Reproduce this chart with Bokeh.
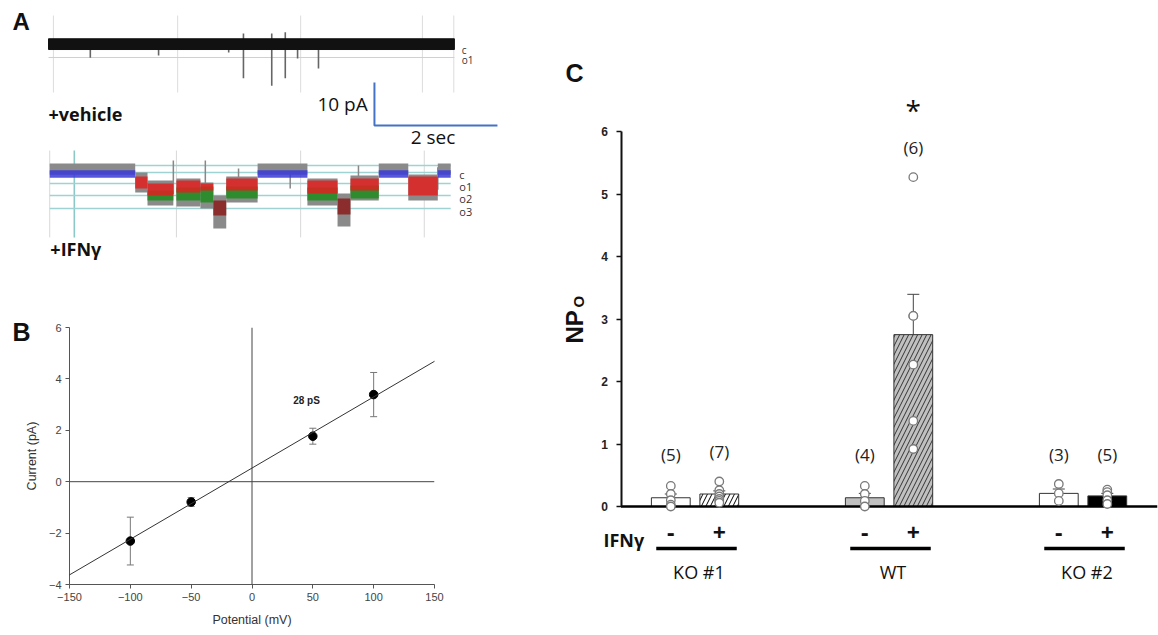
import math
from bokeh.plotting import figure
from bokeh.models import (Range1d, Span, Slope, Whisker, TeeHead,
                          FixedTicker, ColumnDataSource)
from bokeh.layouts import row, column
from bokeh.embed import file_html
from bokeh.resources import INLINE
from bokeh.core.properties import value

# ======================= DATA =======================
# ---- Panel A: single-channel traces (time in s, current in pA) ----
veh_offset = 30.0                      # vehicle trace drawn 30 pA above the IFNγ trace
veh_span_t = [0.0, 6.6]
veh_noise = [-1.4, 1.1]
veh_spike_t = [0.68, 1.79, 2.93, 3.17, 3.63, 3.85, 4.05, 4.39]
veh_spike_lo = [-3.3, -2.8, -2.1, -8.1, -9.8, -8.1, -3.5, -5.8]
veh_spike_hi = [0.5, 0.5, 0.5, 2.3, 2.3, 2.6, 0.5, 0.7]
veh_grid_t = [0.08, 2.10, 4.10, 6.08, 6.59]
veh_levels = [0.0, -3.26]
veh_level_names = ["c", "o1"]

ifn_levels = [0.0, -2.56, -5.35, -8.37]
ifn_level_names = ["c", "o1", "o2", "o3"]
ifn_extra_line = 1.63
ifn_grid_t = [0.02, 2.08, 4.10, 6.11]
ifn_marker_t = 0.42
# closed periods
ifn_closed_t0 = [0.02, 3.40, 5.37, 6.33]
ifn_closed_t1 = [1.41, 4.21, 5.85, 6.54]
ifn_closed_env = [2.1, -0.5]
ifn_closed_blue = [0.5, -1.2]
# open periods
ifn_open_t0 = [1.41, 1.61, 2.08, 2.47, 2.68, 2.89, 4.21, 4.70, 4.91, 5.85]
ifn_open_t1 = [1.61, 2.03, 2.47, 2.68, 2.89, 3.40, 4.70, 4.91, 5.37, 6.33]
ifn_env_hi = [0.0, -1.86, -1.40, -2.33, -5.35, -0.93, -1.40, -4.88, -0.70, -0.47]
ifn_env_lo = [-4.65, -7.67, -7.90, -8.37, -13.0, -6.98, -7.67, -12.56, -6.51, -6.51]
ifn_red_hi = [-0.93, -2.56, -1.86, -2.56, -6.51, -1.40, -1.86, -6.05, -1.40, -0.93]
ifn_red_lo = [-3.72, -5.35, -4.65, -4.19, -10.0, -4.19, -4.88, -9.77, -4.19, -5.35]
ifn_red_color = ["#e02020", "#e02020", "#e02020", "#e02020", "#8b1c1c",
                 "#e02020", "#e02020", "#8b1c1c", "#e02020", "#e02020"]
ifn_green_t0 = [1.61, 2.08, 2.47, 2.89, 4.21, 4.91]
ifn_green_t1 = [2.03, 2.47, 2.68, 3.40, 4.70, 5.37]
ifn_green_hi = [-4.19, -3.49, -3.26, -3.26, -3.49, -3.02]
ifn_green_lo = [-6.51, -6.51, -6.98, -6.05, -6.51, -6.05]
ifn_spike_t = [2.03, 2.55, 3.09, 3.93, 5.04, 6.33]
ifn_spike_lo = [-5.0, -5.0, -4.0, -3.7, -4.5, -4.0]
ifn_spike_hi = [2.8, 2.8, 0.9, 0.5, 1.6, 1.2]

scale_pa = 10
scale_sec = 2

# ---- Panel B: I-V relation ----
iv_mv = [-100, -50, 50, 100]
iv_pa = [-2.31, -0.79, 1.77, 3.39]
iv_err = [0.93, 0.17, 0.31, 0.86]
iv_fit_slope = 0.0277      # pA/mV  (28 pS)
iv_fit_intercept = 0.53
iv_xticks = [-150, -100, -50, 0, 50, 100, 150]
iv_yticks = [-4, -2, 0, 2, 4, 6]

# ---- Panel C: NPo ----
groups = ["KO #1", "WT", "KO #2"]
conditions = ["-", "+"]
npo_mean = [0.14, 0.20, 0.14, 2.75, 0.21, 0.17]
npo_sem = [0.06, 0.05, 0.07, 0.645, 0.07, 0.04]
n_counts = [5, 7, 4, 6, 3, 5]
npo_points = [
    [0.33, 0.20, 0.10, 0.03, 0.0],
    [0.40, 0.26, 0.20, 0.16, 0.12, 0.09, 0.06],
    [0.33, 0.20, 0.09, 0.0],
    [5.27, 3.05, 3.05, 2.27, 1.37, 0.92],
    [0.36, 0.21, 0.09],
    [0.27, 0.23, 0.18, 0.10, 0.04],
]
npo_yticks = [0, 1, 2, 3, 4, 5, 6]

# ======================= PANEL A =======================
OS = value("Open Sans")
LS = value("Liberation Sans")
LEFT_W = 528

pA = figure(width=LEFT_W, height=280, x_range=Range1d(-0.7805, (LEFT_W - 48) / 61.5),
            y_range=Range1d(-25.12, 40.0), x_axis_type=None, y_axis_type=None,
            output_backend="svg", toolbar_location=None, min_border=0)
pA.grid.visible = False
pA.outline_line_color = None
pA.frame_align = False

# vehicle trace
pA.segment(x0=veh_grid_t, x1=veh_grid_t, y0=veh_offset + 6.5, y1=veh_offset - 11.4,
           line_color="#dcdcdc", line_width=1)
pA.segment(x0=[veh_span_t[0]], x1=[veh_span_t[1]], y0=[veh_offset + veh_levels[1]],
           y1=[veh_offset + veh_levels[1]], line_color="#d0d0d0", line_width=1)
pA.segment(x0=veh_spike_t, x1=veh_spike_t,
           y0=[veh_offset + v for v in veh_spike_lo],
           y1=[veh_offset + v for v in veh_spike_hi],
           line_color="#666666", line_width=1.6)
pA.quad(left=[veh_span_t[0]], right=[veh_span_t[1]],
        bottom=[veh_offset + veh_noise[0]], top=[veh_offset + veh_noise[1]],
        fill_color="#111111", line_color="#111111")
pA.text(x=[veh_span_t[1] + 0.12] * 2,
        y=[veh_offset - 1.4, veh_offset - 3.95], text=veh_level_names,
        text_font=OS, text_font_size="10px", text_color="#333333",
        text_baseline="alphabetic")

# IFN trace
pA.segment(x0=ifn_grid_t, x1=ifn_grid_t, y0=5.1, y1=-15.1,
           line_color="#d8d8d8", line_width=1)
pA.segment(x0=[ifn_marker_t], x1=[ifn_marker_t], y0=[5.1], y1=[-15.1],
           line_color="#8cc8c8", line_width=1.6)
hl = [ifn_extra_line] + ifn_levels
pA.segment(x0=[ifn_closed_t0[0]] * len(hl), x1=[ifn_closed_t1[-1]] * len(hl),
           y0=hl, y1=hl, line_color="#9fd3d3", line_width=1.3)
pA.segment(x0=ifn_spike_t, x1=ifn_spike_t, y0=ifn_spike_lo, y1=ifn_spike_hi,
           line_color="#888888", line_width=1.5)
pA.quad(left=ifn_closed_t0, right=ifn_closed_t1,
        bottom=ifn_closed_env[1], top=ifn_closed_env[0],
        fill_color="#8a8a8a", line_color=None)
pA.quad(left=ifn_closed_t0, right=ifn_closed_t1,
        bottom=ifn_closed_blue[1], top=ifn_closed_blue[0],
        fill_color="#3a3ad8", line_color=None, fill_alpha=0.85)
pA.quad(left=ifn_open_t0, right=ifn_open_t1, bottom=ifn_env_lo, top=ifn_env_hi,
        fill_color="#8a8a8a", line_color=None)
pA.quad(left=ifn_green_t0, right=ifn_green_t1, bottom=ifn_green_lo, top=ifn_green_hi,
        fill_color="#2e8b2e", line_color=None)
src_red = ColumnDataSource(dict(l=ifn_open_t0, r=ifn_open_t1, b=ifn_red_lo,
                                t=ifn_red_hi, c=ifn_red_color))
pA.quad(left="l", right="r", bottom="b", top="t", fill_color="c", line_color=None,
        fill_alpha=0.85, source=src_red)
pA.text(x=[ifn_closed_t1[-1] + 0.14] * 4,
        y=[-0.47, -3.26, -6.05, -9.07], text=ifn_level_names,
        text_font=OS, text_font_size="11px", text_color="#333333",
        text_baseline="alphabetic")

# scale bar
sb_t, sb_y = 5.30, 10.93
pA.line(x=[sb_t, sb_t, sb_t + scale_sec], y=[sb_y + scale_pa, sb_y, sb_y],
        line_color="#4472c4", line_width=2)
pA.text(x=[sb_t - 0.11], y=[16.0], text=[f"{scale_pa} pA"], text_font=OS,
        text_font_size="19px", text_align="right", text_baseline="alphabetic",
        text_color="#111111")
pA.text(x=[5.89], y=[8.3], text=[f"{scale_sec} sec"], text_font=OS,
        text_font_size="19px", text_baseline="alphabetic", text_color="#111111")
pA.text(x=[0.0], y=[13.5], text=["+vehicle"], text_font=OS, text_font_size="18px",
        text_font_style="bold", text_baseline="alphabetic", text_color="#111111")
pA.text(x=[0.03], y=[-17.9], text=["+IFNγ"], text_font=OS, text_font_size="18px",
        text_font_style="bold", text_baseline="alphabetic", text_color="#111111")
pA.text(x=[-0.585], y=[35.1], text=["A"], text_font=LS, text_font_size="24px",
        text_font_style="bold", text_baseline="alphabetic", text_color="#111111")

# ======================= PANEL B =======================
pB = figure(width=LEFT_W, height=355, x_range=Range1d(-150, 150), y_range=Range1d(-4, 6),
            min_border_left=69, min_border_right=LEFT_W - 434, min_border_top=47,
            min_border_bottom=51, output_backend="svg", toolbar_location=None)
pB.grid.visible = False
pB.outline_line_color = None
pB.frame_align = False
pB.xaxis.ticker = FixedTicker(ticks=iv_xticks)
pB.yaxis.ticker = FixedTicker(ticks=iv_yticks)
for ax in (pB.xaxis, pB.yaxis):
    ax.axis_line_color = "#555555"
    ax.major_tick_line_color = "#555555"
    ax.major_tick_out = 4
    ax.major_tick_in = 0
    ax.minor_tick_out = 0
    ax.minor_tick_in = 0
    ax.major_label_text_font = "Liberation Sans"
    ax.major_label_text_font_size = "11px"
    ax.major_label_text_color = "#444444"
    ax.major_label_standoff = 4
    ax.axis_label_text_font = "Liberation Sans"
    ax.axis_label_text_font_size = "12.5px"
    ax.axis_label_text_font_style = "normal"
    ax.axis_label_text_color = "#333333"
pB.xaxis.axis_label = "Potential (mV)"
pB.yaxis.axis_label = "Current (pA)"
pB.xaxis.axis_label_standoff = 9
pB.yaxis.axis_label_standoff = 7

pB.add_layout(Span(location=0, dimension="height", line_color="#444444", line_width=1))
pB.add_layout(Span(location=0, dimension="width", line_color="#444444", line_width=1))
pB.add_layout(Slope(gradient=iv_fit_slope, y_intercept=iv_fit_intercept,
                    line_color="#333333", line_width=1))
src_iv = ColumnDataSource(dict(x=iv_mv, y=iv_pa,
                               up=[a + b for a, b in zip(iv_pa, iv_err)],
                               lo=[a - b for a, b in zip(iv_pa, iv_err)]))
pB.add_layout(Whisker(base="x", upper="up", lower="lo", source=src_iv,
                      line_color="#777777", line_width=1,
                      upper_head=TeeHead(size=7, line_color="#777777", line_width=1),
                      lower_head=TeeHead(size=7, line_color="#777777", line_width=1)))
pB.scatter(x="x", y="y", source=src_iv, size=8.5, fill_color="black", line_color="black")
pB.text(x=[44.8], y=[3.16], text=["28 pS"], text_font=LS, text_font_size="10px",
        text_font_style="bold", text_align="center", text_baseline="middle",
        text_color="#222222")
# panel letter "B" as the figure title, pulled to the left of the frame
pB.title.text = "B"
pB.title.align = "left"
pB.title.offset = -57
pB.title.standoff = -36
pB.title.vertical_align = "bottom"
pB.title.text_font = "Liberation Sans"
pB.title.text_font_size = "25px"
pB.title.text_font_style = "bold"
pB.title.text_color = "#111111"

# ======================= PANEL C =======================
C_W, C_H = 1158 - LEFT_W, 635
C_FRAME_L = LEFT_W + 30          # screen x of the frame's left edge
PX_X, X0_PX = 48.5, 670.3        # px per category step, px of first bar
PX_Y, Y0_PX = 62.5, 506.0        # px per NPo unit, px of NPo = 0
pC = figure(width=C_W, height=C_H,
            x_range=Range1d((C_FRAME_L - X0_PX) / PX_X, (1157 - X0_PX) / PX_X),
            y_range=Range1d((Y0_PX - 610) / PX_Y, Y0_PX / PX_Y), x_axis_type=None,
            min_border_left=30, min_border_right=1, min_border_top=0,
            min_border_bottom=25, output_backend="svg", toolbar_location=None)
pC.grid.visible = False
pC.outline_line_color = None
pC.frame_align = False
ya = pC.yaxis[0]
ya.fixed_location = (620.5 - X0_PX) / PX_X
ya.ticker = FixedTicker(ticks=npo_yticks)
ya.bounds = (0, 6)
ya.axis_line_width = 2
ya.axis_line_color = "#111111"
ya.major_tick_line_color = "#111111"
ya.major_tick_line_width = 1.5
ya.major_tick_out = 5
ya.major_tick_in = 0
ya.minor_tick_out = 0
ya.minor_tick_in = 0
ya.major_label_text_font = "Liberation Sans"
ya.major_label_text_font_style = "bold"
ya.major_label_text_font_size = "12px"
ya.major_label_text_color = "#222222"
ya.major_label_standoff = 8

group_pos = [0.0, 4.0, 8.0]
bar_x = [g + k for g in group_pos for k in (0, 1)]
bar_fill = ["white", "white", "#c0c0c0", "#c0c0c0", "white", "black"]
bar_hatch = [" ", "/", " ", "/", " ", " "]
bar_hatch_color = ["black", "black", "#333333", "#333333", "black", "black"]

src_bar = ColumnDataSource(dict(x=bar_x, top=npo_mean, fill=bar_fill, hatch=bar_hatch,
                                hc=bar_hatch_color,
                                up=[m + s for m, s in zip(npo_mean, npo_sem)],
                                lo=npo_mean))
pC.add_layout(Whisker(base="x", upper="up", lower="lo", source=src_bar,
                      line_color="#444444", line_width=1,
                      upper_head=TeeHead(size=12, line_color="#444444", line_width=1),
                      lower_head=None))
pC.vbar(x="x", top="top", bottom=0, width=0.8, source=src_bar, fill_color="fill",
        line_color="#333333", line_width=1, hatch_pattern="hatch", hatch_color="hc",
        hatch_scale=9, hatch_weight=1)
# baseline (x axis at NPo = 0), from the y axis to the right edge
pC.segment(x0=[ya.fixed_location], x1=[(1157 - X0_PX) / PX_X], y0=[0], y1=[0],
           line_color="black", line_width=2.5)

px, py = [], []
for x, pts in zip(bar_x, npo_points):
    px += [x] * len(pts)
    py += pts
pC.scatter(x=px, y=py, size=8.5, fill_color="white", line_color="#7a7a7a", line_width=1.3)

label_y = [max(0.84, max(pts) + 0.48) for pts in npo_points]
pC.text(x=bar_x, y=label_y, text=[f"({n})" for n in n_counts], text_font=OS,
        text_font_size="17px", text_align="center", text_baseline="middle",
        text_color="#222222")
pC.text(x=[bar_x[3]], y=[label_y[3] + 0.60], text=["*"], text_font=OS,
        text_font_size="28px", text_align="center", text_baseline="alphabetic",
        text_color="#111111")
pC.text(x=bar_x, y=[-0.42] * 6, text=conditions * 3, text_font=OS,
        text_font_size="23px", text_font_style="bold", text_align="center",
        text_baseline="alphabetic", text_color="#111111")
gc = [g + 0.5 for g in group_pos]
pC.segment(x0=[g - 0.8 for g in gc], x1=[g + 0.86 for g in gc], y0=[-0.672] * 3,
           y1=[-0.672] * 3, line_color="black", line_width=3.5)
pC.text(x=[g + 0.08 for g in gc], y=[-1.05] * 3, text=groups, text_font=OS,
        text_font_size="18px", text_align="center", text_baseline="alphabetic",
        text_color="#111111")
pC.text(x=[(603 - X0_PX) / PX_X], y=[(Y0_PX - 539) / PX_Y], text=["IFNγ"],
        text_font=OS, text_font_size="18px", text_font_style="bold",
        text_baseline="alphabetic", text_color="#111111")
pC.text(x=[(565 - X0_PX) / PX_X], y=[(Y0_PX - 72) / PX_Y], text=["C"],
        text_font=LS, text_font_size="25px", text_font_style="bold",
        text_baseline="alphabetic", text_color="#111111")
pC.text(x=[(574 - X0_PX) / PX_X], y=[(Y0_PX - 343) / PX_Y], text=["NP"],
        angle=math.pi / 2, text_font=LS, text_font_size="24px",
        text_font_style="bold", text_baseline="alphabetic", text_color="#111111")
pC.text(x=[(578 - X0_PX) / PX_X], y=[(Y0_PX - 307) / PX_Y], text=["O"],
        angle=math.pi / 2, text_font=LS, text_font_size="15px",
        text_font_style="bold", text_baseline="alphabetic", text_color="#111111")

layout = row(column(pA, pB), pC)
open("out.html", "w").write(file_html(layout, INLINE))
